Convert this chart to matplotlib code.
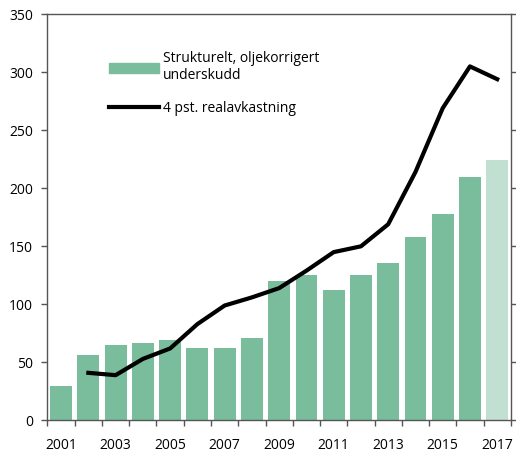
import matplotlib.pyplot as plt
from matplotlib.patches import Patch
from matplotlib.lines import Line2D

plt.rcParams['font.family'] = ['Open Sans', 'DejaVu Sans']

years = list(range(2001, 2018))
underskudd = [30, 56, 65, 67, 69, 62, 62, 71, 120, 125, 112, 125, 136, 158, 178, 210, 224]
line_years = list(range(2002, 2018))
realavkastning = [41, 39, 53, 62, 83, 99, 106, 114, 129, 145, 150, 169, 214, 269, 305, 294]
label_years = [2001, 2003, 2005, 2007, 2009, 2011, 2013, 2015, 2017]

bar_col = '#79bd9c'
light_col = '#c2e0d2'

fig = plt.figure(figsize=(5.16, 4.57), dpi=100)
ax = fig.add_axes([0.092, 0.08, 0.898, 0.889])

colors = [bar_col] * (len(years) - 1) + [light_col]  # last year lighter
ax.bar(years, underskudd, width=0.8, color=colors, zorder=2)
ax.plot(line_years, realavkastning, color='black', lw=3, zorder=3)

ax.set_xlim(2000.5, 2017.5)
ax.set_ylim(0, 350)
ax.set_yticks(range(0, 351, 50))

# ticks between bars, labels under odd years
ax.set_xticks([y + 0.5 for y in range(2000, 2018)], minor=True)
ax.set_xticks(label_years)
ax.tick_params(axis='x', which='major', length=0, pad=13, labelsize=10)
ax.tick_params(axis='x', which='minor', length=4.5, width=1, color='#555555', direction='out')
ax.tick_params(axis='y', length=4.5, width=1, color='#555555', pad=6, labelsize=10,
               right=True, direction='out')

for s in ax.spines.values():
    s.set_color('#555555')
    s.set_linewidth(1)

handles = [Patch(color=bar_col), Line2D([], [], color='black', lw=3)]
labels = ['Strukturelt, oljekorrigert\nunderskudd', '4 pst. realavkastning']
ax.legend(handles, labels, loc='upper left', bbox_to_anchor=(0.105, 0.94), frameon=False,
          handlelength=3.6, handleheight=0.7, handletextpad=0.3, labelspacing=1.3,
          fontsize=10)

fig.savefig('out.png', dpi=100)
